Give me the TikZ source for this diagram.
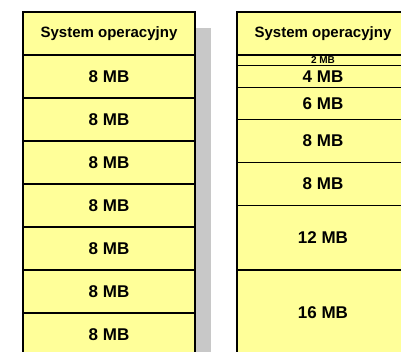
\documentclass[tikz,border=0pt]{standalone}
\usepackage{fontspec}
\setmainfont{Liberation Sans}
\usetikzlibrary{positioning}

\definecolor{pamiec}{HTML}{FFFF99}
\definecolor{cien}{HTML}{C8C8C8}

\tikzset{
  blok/.style={draw, fill=pamiec, line width=1.2pt, minimum width=172pt, inner sep=0pt,
    outer sep=0pt, font=\bfseries\fontsize{17}{19}\selectfont},
  system/.style={blok, minimum height=43pt, anchor=north west,
    font=\bfseries\fontsize{15}{17}\selectfont},
}

\begin{document}
\begin{tikzpicture}[x=1pt,y=-1pt]
  \useasboundingbox (0,0) rectangle (401,352);
  \clip (0,0) rectangle (401,352);
  % cien pod lewa kolumna
  \fill[cien] (39,28) rectangle (211,380);

  % partycje stale
  \node[system] (l0) at (23,12) {System operacyjny};
  \foreach \i [remember=\i as \p (initially 0)] in {1,...,7}
    \node[blok, minimum height=43pt, below=0pt of l\p] (l\i) {8 MB};

  % partycje o roznych rozmiarach
  \node[system] (r0) at (237,12) {System operacyjny};
  \node[blok, minimum height=10.75pt, below=0pt of r0,
    font=\bfseries\fontsize{10}{11}\selectfont] (r1) {2 MB};
  \foreach \mb [count=\i from 2, remember=\i as \p (initially 1)] in {4,6,8,8,12,16}
    \node[blok, minimum height={\mb*5.375pt}, below=0pt of r\p] (r\i) {\mb{} MB};
\end{tikzpicture}
\end{document}
